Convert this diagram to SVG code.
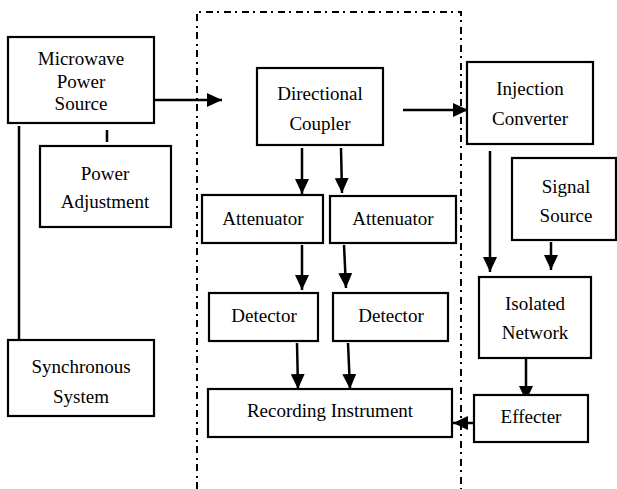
<svg xmlns="http://www.w3.org/2000/svg" width="617" height="489" viewBox="0 0 617 489" font-family="'Liberation Serif', 'Times New Roman', serif" font-size="19">
<defs>
<style>
.box{fill:#fff;stroke:#000;stroke-width:2.2}
.t{fill:#000;text-anchor:middle}
.c{stroke:#000;stroke-width:2.5;fill:none}
.a{marker-end:url(#ah)}
.dd{fill:none;stroke:#000;stroke-width:2;stroke-dasharray:7 4 2 5}
</style>
<marker id="ah" markerUnits="userSpaceOnUse" markerWidth="15" markerHeight="14" refX="15" refY="7" orient="auto">
<path d="M0,0 L15,7 L0,14 z" fill="#000"/>
</marker>
</defs>
<rect width="617" height="489" fill="#fff"/>
<path class="dd" d="M197,489 V12 H461 V489"/>
<g id="connectors">
<line class="c a" x1="154" y1="100" x2="222" y2="100"/>
<line class="c" x1="107" y1="130" x2="107" y2="142"/>
<line class="c" x1="19" y1="126" x2="19" y2="340"/>
<line class="c a" x1="302" y1="148" x2="302" y2="194"/>
<line class="c a" x1="341" y1="148" x2="342" y2="193"/>
<line class="c a" x1="403" y1="110" x2="468" y2="110"/>
<line class="c a" x1="302" y1="245" x2="302" y2="290"/>
<line class="c a" x1="344" y1="245" x2="346" y2="288"/>
<line class="c a" x1="297" y1="343" x2="298" y2="389"/>
<line class="c a" x1="348" y1="343" x2="350" y2="389"/>
<line class="c a" x1="490" y1="151" x2="490" y2="272"/>
<line class="c a" x1="551" y1="242" x2="551" y2="270"/>
<line class="c a" x1="526" y1="358" x2="526" y2="401"/>
<line class="c a" x1="474" y1="423" x2="453" y2="423"/>
</g>
<g id="microwave-power-source"><rect class="box" x="8" y="37" width="146" height="86"/><text class="t" x="81" y="65">Microwave</text><text class="t" x="81" y="88">Power</text><text class="t" x="81" y="110">Source</text></g>
<g id="power-adjustment"><rect class="box" x="40" y="146" width="131" height="81"/><text class="t" x="105" y="180">Power</text><text class="t" x="105" y="208">Adjustment</text></g>
<g id="synchronous-system"><rect class="box" x="8" y="340" width="146" height="76"/><text class="t" x="81" y="373">Synchronous</text><text class="t" x="81" y="403">System</text></g>
<g id="directional-coupler"><rect class="box" x="257" y="68" width="126" height="77"/><text class="t" x="320" y="100">Directional</text><text class="t" x="320" y="130">Coupler</text></g>
<g id="attenuator-1"><rect class="box" x="202" y="195" width="121" height="48"/><text class="t" x="263" y="225">Attenuator</text></g>
<g id="attenuator-2"><rect class="box" x="330" y="196" width="126" height="47"/><text class="t" x="393" y="225">Attenuator</text></g>
<g id="detector-1"><rect class="box" x="209" y="293" width="109" height="48"/><text class="t" x="264" y="322">Detector</text></g>
<g id="detector-2"><rect class="box" x="333" y="293" width="115" height="48"/><text class="t" x="391" y="322">Detector</text></g>
<g id="recording-instrument"><rect class="box" x="208" y="389" width="244" height="48"/><text class="t" x="330" y="417">Recording Instrument</text></g>
<g id="injection-converter"><rect class="box" x="467" y="62" width="126" height="82"/><text class="t" x="530" y="95">Injection</text><text class="t" x="530" y="125">Converter</text></g>
<g id="signal-source"><rect class="box" x="512" y="158" width="104" height="82"/><text class="t" x="566" y="193">Signal</text><text class="t" x="566" y="222">Source</text></g>
<g id="isolated-network"><rect class="box" x="479" y="277" width="112" height="81"/><text class="t" x="535" y="310">Isolated</text><text class="t" x="535" y="339">Network</text></g>
<g id="effecter"><rect class="box" x="474" y="395" width="114" height="47"/><text class="t" x="531" y="423">Effecter</text></g>
</svg>
